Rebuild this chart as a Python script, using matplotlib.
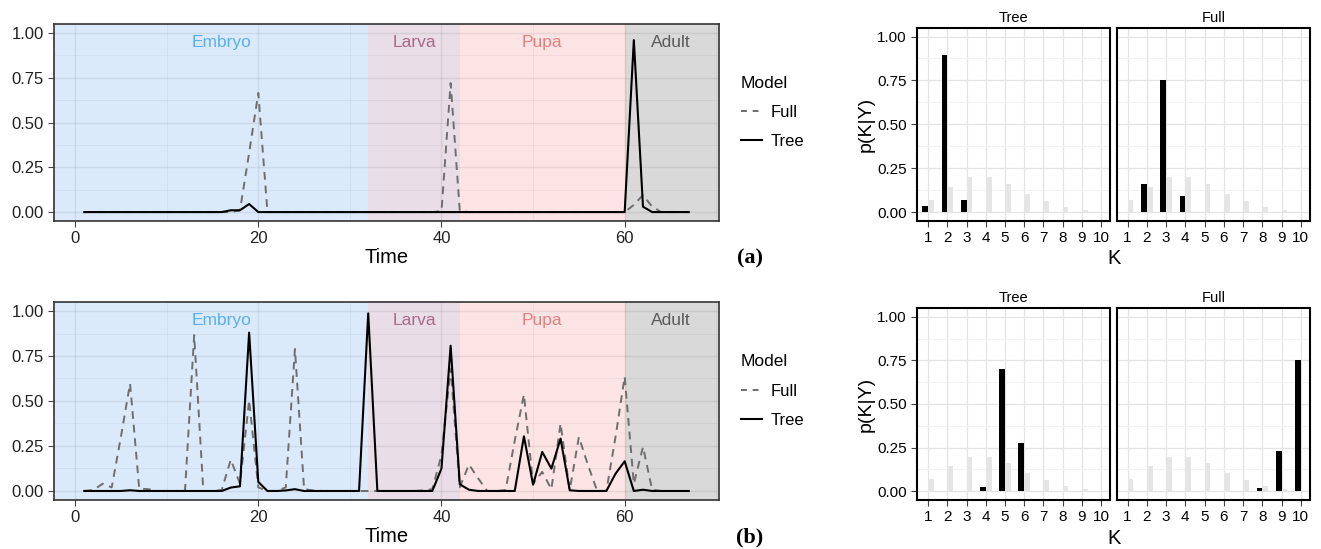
import numpy as np
import matplotlib
matplotlib.use('Agg')
import matplotlib.pyplot as plt
from matplotlib.lines import Line2D

plt.rcParams['font.family'] = ['Liberation Sans', 'DejaVu Sans']

time = np.arange(1, 68)

# panel (a) time series
tree_a = [0] * 16 + [0.01, 0.01, 0.045, 0] + [0] * 40 + [0.96, 0.03] + [0] * 5
full_a = ([0] * 16 + [0.0, 0.01, 0.33, 0.665, 0] + [0] * 18
          + [0.005, 0.72, 0.005] + [0] * 18 + [0.04, 0.095, 0.03] + [0] * 4)

# panel (b) time series
tree_b = ([0, 0, 0, 0, 0, 0.004, 0, 0, 0, 0, 0, 0, 0, 0, 0, 0,
           0.019, 0.026, 0.88, 0.05, 0, 0, 0.003, 0.01, 0, 0, 0, 0, 0, 0, 0,
           0.987, 0, 0, 0, 0, 0, 0, 0, 0.125, 0.807, 0.037, 0.007, 0, 0, 0, 0, 0,
           0.304, 0.035, 0.217, 0.124, 0.291, 0.004, 0, 0, 0, 0,
           0.096, 0.165, 0, 0.007, 0, 0, 0, 0, 0])
full_b = ([0, 0.005, 0.04, 0.02, 0.3, 0.597, 0.013, 0.01, 0, 0, 0, 0.003,
           0.866, 0, 0, 0.005, 0.174, 0.04, 0.505, 0.02, 0, 0, 0.02, 0.789,
           0.01, 0.003, 0, 0, 0, 0, 0, 0, 0, 0, 0, 0, 0, 0.003, 0.01, 0.2,
           0.68, 0.02, 0.147, 0.07, 0, 0, 0.005, 0.28, 0.536, 0.04, 0.106,
           0.01, 0.375, 0.005, 0.3, 0.143, 0, 0, 0.3, 0.635, 0.04, 0.245,
           0.007, 0, 0, 0, 0])

stages = ['Embryo', 'Larva', 'Pupa', 'Adult']
stage_bounds = [(-10, 32), (32, 42), (42, 60), (60, 80)]
stage_label_x = [16, 37, 51, 65]
stage_bg = ['#dbeafa', '#e9dde7', '#fbe4e3', '#d9d9d9']
stage_fg = ['#5aaee8', '#a8698a', '#e57f80', '#5a5a5a']

# posterior over K
K = np.arange(1, 11)
prior = [0.072, 0.143, 0.198, 0.198, 0.16, 0.106, 0.062, 0.032, 0.015, 0.004]
post_a_tree = [0.038, 0.892, 0.072, 0, 0, 0, 0, 0, 0, 0]
post_a_full = [0, 0.16, 0.75, 0.09, 0.004, 0.004, 0, 0, 0, 0]
post_b_tree = [0, 0, 0.004, 0.026, 0.70, 0.276, 0.004, 0, 0, 0]
post_b_full = [0, 0, 0, 0, 0, 0, 0.004, 0.02, 0.23, 0.75]


def time_panel(ax, tree, full):
    for (x0, x1), bg in zip(stage_bounds, stage_bg):
        ax.axvspan(x0, x1, color=bg, zorder=0, lw=0)
    ax.set_axisbelow(True)
    ax.plot(time, full, color='#6e6e6e', lw=1.4, ls=(0, (4, 3)), zorder=2)
    ax.plot(time, tree, color='black', lw=1.5, zorder=3)
    for name, x, c in zip(stages, stage_label_x, stage_fg):
        ax.text(x, 0.945, name, color=c, ha='center', va='center', fontsize=12.5)
    ax.set_xlim(-2.3, 70.3)
    ax.set_ylim(-0.05, 1.05)
    ax.set_xticks([0, 20, 40, 60])
    ax.set_xticks([10, 30, 50, 70], minor=True)
    ax.set_yticks([0, 0.25, 0.5, 0.75, 1.0])
    ax.set_yticks([0.125, 0.375, 0.625, 0.875], minor=True)
    ax.set_yticklabels(['0.00', '0.25', '0.50', '0.75', '1.00'])
    ax.grid(which='major', color='black', alpha=0.07, lw=1.0)
    ax.grid(which='minor', color='black', alpha=0.045, lw=0.7)
    ax.tick_params(which='major', labelsize=12, length=4, color='#444444', labelcolor='#222222')
    ax.tick_params(which='minor', length=0)
    for s in ax.spines.values():
        s.set_color('#333333')
        s.set_linewidth(1.2)
    ax.set_xlabel('Time', fontsize=14.5, labelpad=1)
    handles = [Line2D([], [], color='#6e6e6e', lw=1.4, ls=(0, (3, 3))),
               Line2D([], [], color='black', lw=1.5)]
    ax.legend(handles, ['Full', 'Tree'], title='Model', loc='center left',
              bbox_to_anchor=(1.01, 0.55), frameon=False, fontsize=12,
              title_fontsize=12.5, handlelength=1.3, handletextpad=0.5,
              labelspacing=0.85, alignment='left')


def bar_panel(ax, post, title, first):
    ax.bar(K - 0.15, post, width=0.3, color='black', zorder=2)
    ax.bar(K + 0.15, prior, width=0.3, color='#e5e5e5', zorder=2)
    ax.set_axisbelow(True)
    ax.set_xlim(0.43, 10.47)
    ax.set_ylim(-0.05, 1.05)
    ax.set_xticks(K)
    ax.set_yticks([0, 0.25, 0.5, 0.75, 1.0])
    ax.set_yticks([0.125, 0.375, 0.625, 0.875], minor=True)
    ax.grid(which='major', color='#e3e3e3', lw=0.9)
    ax.grid(which='minor', axis='y', color='#f2f2f2', lw=0.7)
    ax.tick_params(which='major', labelsize=11, length=4, color='#444444')
    ax.tick_params(which='minor', length=0)
    ax.set_title(title, fontsize=10.5, pad=4)
    for s in ax.spines.values():
        s.set_linewidth(1.5)
    if first:
        ax.set_yticklabels(['0.00', '0.25', '0.50', '0.75', '1.00'])
        ax.set_ylabel('p(K|Y)', fontsize=14, labelpad=2)
    else:
        ax.tick_params(axis='y', which='both', left=False, labelleft=False)


fig = plt.figure(figsize=(13.21, 5.49), dpi=100)

ax1 = fig.add_axes([0.0409, 0.5974, 0.5034, 0.3589])
time_panel(ax1, tree_a, full_a)
ax2 = fig.add_axes([0.0409, 0.0893, 0.5034, 0.3606])
time_panel(ax2, tree_b, full_b)

b1 = fig.add_axes([0.6944, 0.5974, 0.1459, 0.3521])
bar_panel(b1, post_a_tree, 'Tree', True)
b2 = fig.add_axes([0.8453, 0.5974, 0.1463, 0.3521])
bar_panel(b2, post_a_full, 'Full', False)
b3 = fig.add_axes([0.6944, 0.0893, 0.1459, 0.3497])
bar_panel(b3, post_b_tree, 'Tree', True)
b4 = fig.add_axes([0.8453, 0.0893, 0.1463, 0.3497])
bar_panel(b4, post_b_full, 'Full', False)

fig.text(0.843, 1 - 259 / 549, 'K', ha='center', va='center', fontsize=14.5)
fig.text(0.843, 1 - 538 / 549, 'K', ha='center', va='center', fontsize=14.5)

fig.text(750 / 1321, 1 - 258 / 549, '(a)', ha='center', va='center',
         family='Liberation Serif', fontweight='bold', fontsize=16)
fig.text(750 / 1321, 1 - 537 / 549, '(b)', ha='center', va='center',
         family='Liberation Serif', fontweight='bold', fontsize=16)

fig.savefig('out.png', dpi=100)
